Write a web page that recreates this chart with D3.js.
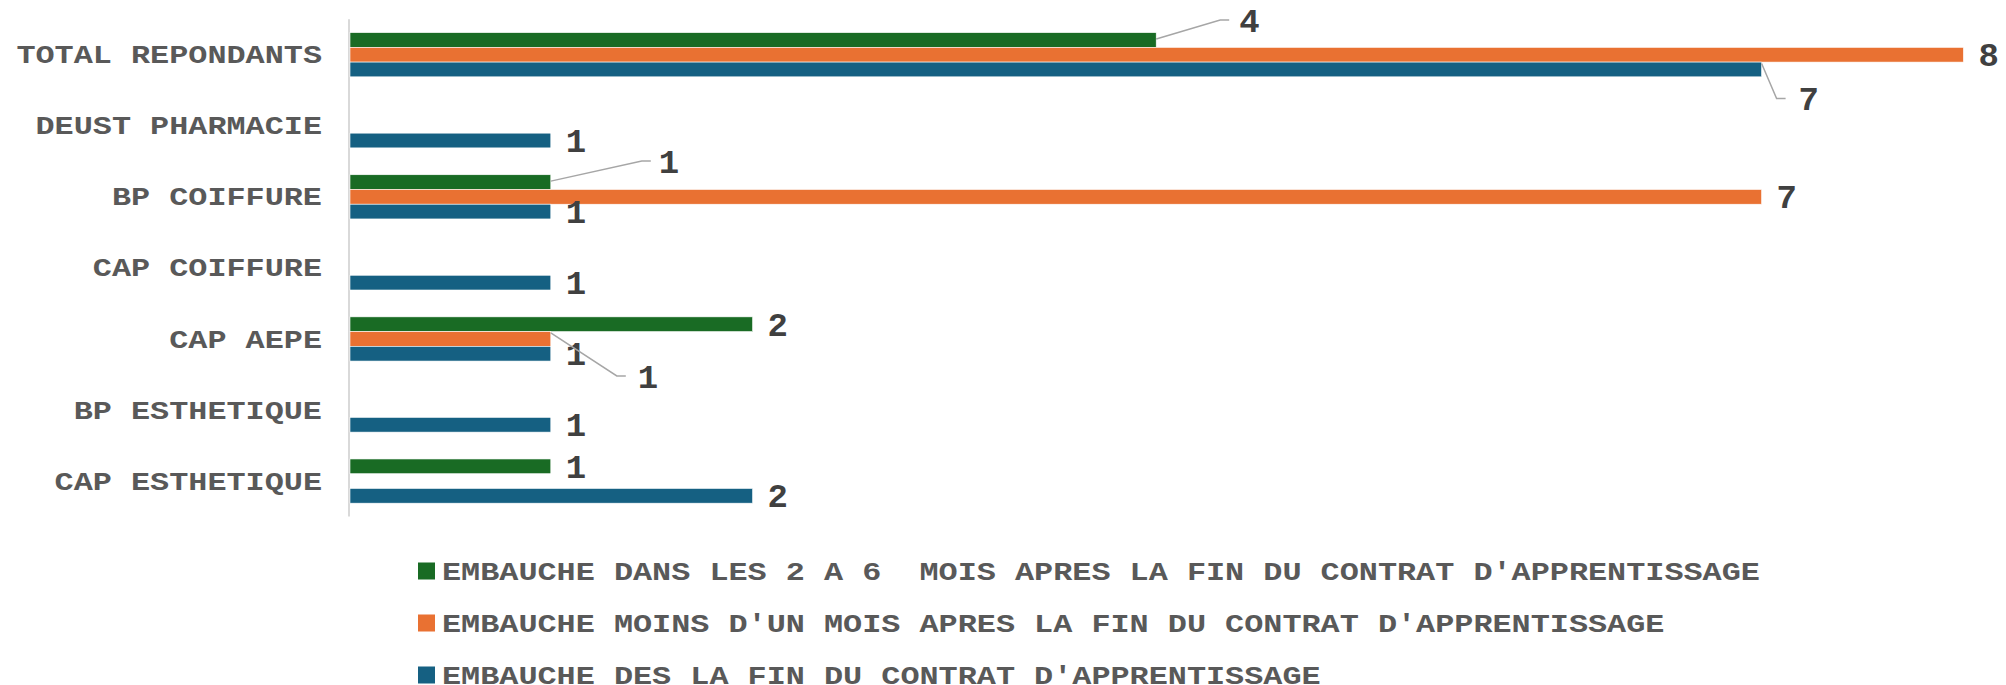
<!DOCTYPE html>
<html>
<head>
<meta charset="utf-8">
<script src="https://cdn.jsdelivr.net/npm/d3@7"></script>
<style>
  body { margin: 0; background: #fff; }
  text { white-space: pre; }
</style>
</head>
<body>
<script>
// categories, top to bottom
const categories = ["TOTAL REPONDANTS", "DEUST PHARMACIE", "BP COIFFURE", "CAP COIFFURE",
                    "CAP AEPE", "BP ESTHETIQUE", "CAP ESTHETIQUE"];

const seriesNames = ["EMBAUCHE DANS LES 2 A 6  MOIS APRES LA FIN DU CONTRAT D'APPRENTISSAGE",
                     "EMBAUCHE MOINS D'UN MOIS APRES LA FIN DU CONTRAT D'APPRENTISSAGE",
                     "EMBAUCHE DES LA FIN DU CONTRAT D'APPRENTISSAGE"];
const seriesColors = ["#196B24", "#E97132", "#156082"];

// values per series (null = no bar)
const deuxASixMois = [4, null, 1, null, 2, null, 1];
const moinsUnMois  = [8, null, 7, null, 1, null, null];
const finContrat   = [7, 1, 1, 1, 1, 1, 2];
const seriesValues = [deuxASixMois, moinsUnMois, finContrat];

// labels that Excel moved and drew with a leader line: [series, category, elbow dx, elbow dy, label dx]
const leaderLabels = [[0, 0, 64, -20, 83], [2, 0, 15, 29, 37], [0, 2, 91, -21, 108], [1, 4, 66, 37, 87]];

const width = 2006, height = 685;
const svg = d3.select("body").append("svg").attr("width", width).attr("height", height);

const x = d3.scaleLinear().domain([0, 8]).range([349, 1963.4]);
const y = d3.scaleBand().domain(categories).range([19.2, 516.6]).paddingInner(0.378).paddingOuter(0.189);
const ys = d3.scaleBand().domain([0, 1, 2]).range([0, y.bandwidth()]);

const monoFont = "'Courier New', 'Liberation Mono', monospace";
const charW = 19.1;

// vertical axis line
svg.append("line")
    .attr("x1", x(0)).attr("x2", x(0))
    .attr("y1", y.range()[0]).attr("y2", y.range()[1])
    .attr("stroke", "#d9d9d9").attr("stroke-width", 2);

// category labels
svg.selectAll("text.cat").data(categories).enter().append("text")
    .attr("class", "cat")
    .attr("x", x(0) - 27)
    .attr("y", d => y(d) + y.bandwidth() / 2)
    .attr("dy", "0.33em")
    .attr("text-anchor", "end")
    .attr("textLength", d => d.length * charW)
    .attr("lengthAdjust", "spacingAndGlyphs")
    .style("font-family", monoFont).style("font-weight", "bold").style("font-size", "26px")
    .style("fill", "#595959")
    .text(d => d);

// bars
const bars = [];
seriesValues.forEach(function (vals, s) {
    vals.forEach(function (v, c) {
        if (v != null) bars.push({ s: s, c: c, v: v });
    });
});

svg.selectAll("rect.bar").data(bars).enter().append("rect")
    .attr("class", "bar")
    .attr("x", x(0) + 1)
    .attr("y", d => y(categories[d.c]) + ys(d.s))
    .attr("width", d => x(d.v) - x(0) - 1)
    .attr("height", ys.bandwidth())
    .attr("fill", d => seriesColors[d.s])
    .attr("stroke", "#ffffff").attr("stroke-width", 0.6);

function isLeader(d) {
    return leaderLabels.find(l => l[0] == d.s && l[1] == d.c);
}

// plain value labels
svg.selectAll("text.val").data(bars.filter(d => !isLeader(d))).enter().append("text")
    .attr("class", "val")
    .attr("x", d => x(d.v) + 15)
    .attr("y", d => y(categories[d.c]) + ys(d.s) + ys.bandwidth() / 2)
    .attr("dy", "0.34em")
    .style("font-family", monoFont).style("font-weight", "bold").style("font-size", "34px")
    .style("fill", "#404040")
    .text(d => d.v);

// leader-line value labels
leaderLabels.forEach(function (l) {
    const s = l[0], c = l[1], v = seriesValues[s][c];
    const x0 = x(v), y0 = y(categories[c]) + ys(s) + ys.bandwidth() / 2;
    const ex = x0 + l[2], ey = y0 + l[3];
    svg.append("path")
        .attr("d", d3.line()([[x0, y0 + (l[3] < 0 ? -1 : -6)], [ex, ey], [ex + 9, ey]]))
        .attr("fill", "none").attr("stroke", "#a6a6a6").attr("stroke-width", 1.5);
    svg.append("text")
        .attr("x", x0 + l[4])
        .attr("y", ey)
        .attr("dy", "0.34em")
        .style("font-family", monoFont).style("font-weight", "bold").style("font-size", "34px")
        .style("fill", "#404040")
        .text(v);
});

// legend
const legend = svg.selectAll("g.leg").data(seriesNames).enter().append("g")
    .attr("class", "leg")
    .attr("transform", (d, i) => "translate(418," + (571 + i * 52) + ")");

legend.append("rect")
    .attr("x", 0).attr("y", -8.5).attr("width", 17).attr("height", 17)
    .attr("fill", (d, i) => seriesColors[i]);

legend.append("text")
    .attr("x", 24)
    .attr("y", 0)
    .attr("dy", "0.33em")
    .attr("textLength", d => d.length * charW)
    .attr("lengthAdjust", "spacingAndGlyphs")
    .style("font-family", monoFont).style("font-weight", "bold").style("font-size", "26px")
    .style("fill", "#595959")
    .text(d => d);
</script>
</body>
</html>
